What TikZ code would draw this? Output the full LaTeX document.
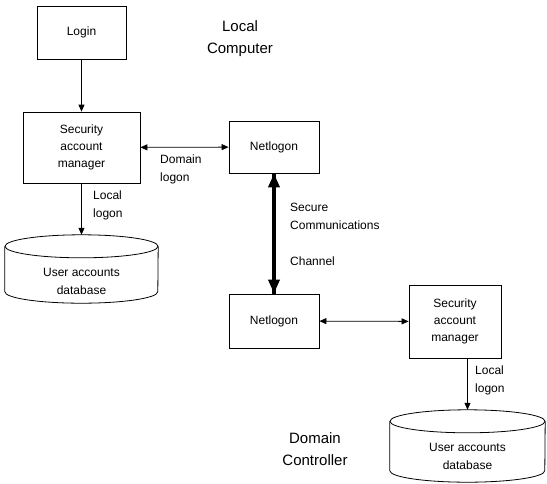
\documentclass[tikz,border=0pt]{standalone}
\usepackage{fontspec}
\setmainfont{Liberation Sans}
\usetikzlibrary{arrows.meta, positioning}
\tikzset{%
  >={Triangle[width=6pt,length=7pt]},
  % boxes and labels
  box/.style = {draw=black, line width=0.8pt, align=center,
                font=\fontsize{12}{17}\selectfont},
  lbl/.style = {align=left, inner sep=0pt, font=\fontsize{12}{18}\selectfont},
  dbtext/.style = {align=center, inner sep=0pt, font=\fontsize{12}{18}\selectfont},
  title/.style = {align=center, inner sep=0pt, font=\fontsize{15}{22}\selectfont},
  conn/.style = {line width=0.8pt},
  chan/.style = {line width=4pt, -{Triangle[width=11pt,length=14pt]}}
}
\begin{document}
\begin{tikzpicture}[x=1pt, y=-1pt]
  \useasboundingbox (0,0) rectangle (547,483);
  % local computer
  \node[box, minimum width=89, minimum height=53] (login) at (81.5,32.5) {Login};
  \node[box, minimum width=117, minimum height=71] (sam1) at (81.5,147.5) {Security\\account\\manager};
  \node[box, minimum width=90, minimum height=52] (net1) at (274,147) {Netlogon};
  \node[inner sep=0pt, minimum width=153, minimum height=68] (db1) at (81.5,269) {};
  \node[dbtext] (db1txt) at ([yshift=-12pt]db1.center) {User accounts\\database};
  % domain controller
  \node[box, minimum width=90, minimum height=54] (net2) at (274,321) {Netlogon};
  \node[box, minimum width=92, minimum height=73] (sam2) at (455,321.5) {Security\\account\\manager};
  \node[inner sep=0pt, minimum width=155, minimum height=72] (db2) at (467.5,446) {};
  \node[dbtext] (db2txt) at ([yshift=-10pt]db2.center) {User accounts\\database};
  % databases
  \foreach \db/\r in {db1/76.5, db2/77.5} {
    \draw[conn] ([yshift=-11.5pt]\db.north west) -- ([yshift=11.5pt]\db.south west)
      arc[start angle=180, end angle=360, x radius=\r pt, y radius=11.5pt]
      -- ([yshift=-11.5pt]\db.north east);
    \draw[conn] ([yshift=-11.5pt]\db.north) ellipse[x radius=\r pt, y radius=11.5pt];
  }
  % connectors
  \draw[conn, ->] (login) -- (sam1);
  \draw[conn, <->] (sam1) -- (net1);
  \draw[conn, ->] (sam1) -- (db1.north);
  \draw[chan] (net1.south) -- (net2.north);
  \draw[chan] (net2.north) -- (net1.south);
  \draw[conn, <->] (net2) -- (sam2);
  \draw[conn, ->] (sam2.south -| db2.north) -- (db2.north);
  % labels
  \node[title] (loc) at (240,39) {Local\\Computer};
  \node[title] (dc) at (315,449.5) {Domain\\Controller};
  \node[lbl, anchor=west] (dom) at (160,169) {Domain\\logon};
  \node[lbl, anchor=west] (loc1) at (93,205) {Local\\logon};
  \node[lbl, anchor=west] (loc2) at (475,380) {Local\\logon};
  \node[lbl, anchor=north west] (sec) at (290,203) {Secure\\Communications\\[18pt]Channel};
\end{tikzpicture}
\end{document}
